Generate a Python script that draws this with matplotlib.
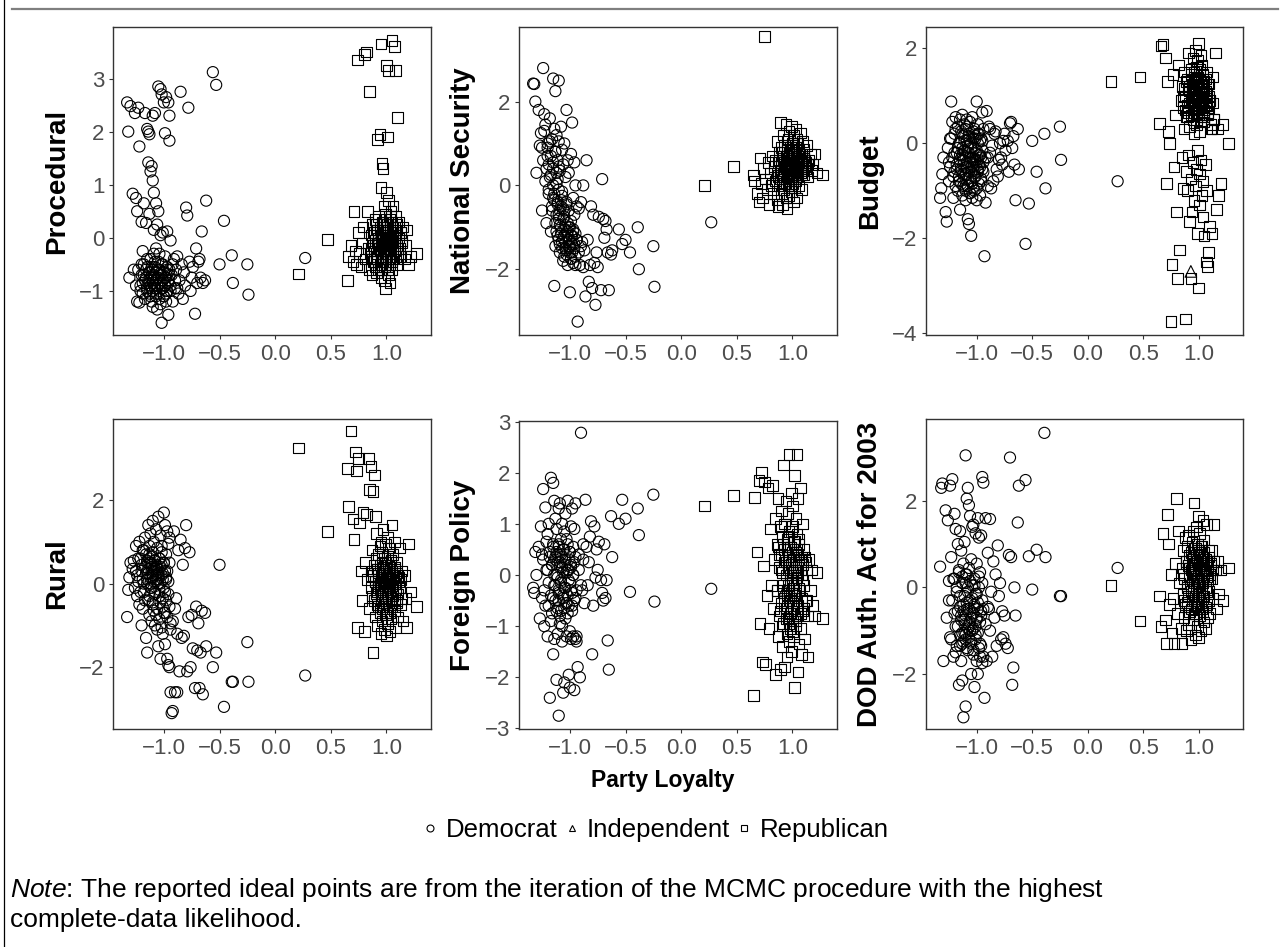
import matplotlib
matplotlib.use("Agg")
import matplotlib.pyplot as plt
from matplotlib.lines import Line2D

plt.rcParams['font.family'] = ['Liberation Sans', 'DejaVu Sans']
plt.rcParams['mathtext.fontset'] = 'custom'
plt.rcParams['mathtext.rm'] = 'Liberation Sans'
plt.rcParams['mathtext.it'] = 'Liberation Sans:italic'

# first dimension (party loyalty), shared by all six panels
dem_x = [
    -1.33, -1.32, -1.31, -1.30, -1.28, -1.27, -1.26, -1.25, -1.24, -1.24,
    -1.23, -1.22, -1.22, -1.21, -1.20, -1.20, -1.19, -1.19, -1.18, -1.18,
    -1.17, -1.17, -1.16, -1.16, -1.15, -1.15, -1.15, -1.14, -1.14, -1.14,
    -1.13, -1.13, -1.13, -1.12, -1.12, -1.12, -1.11, -1.11, -1.11, -1.10,
    -1.10, -1.10, -1.10, -1.09, -1.09, -1.09, -1.08, -1.08, -1.08, -1.07,
    -1.07, -1.07, -1.06, -1.06, -1.06, -1.05, -1.05, -1.05, -1.04, -1.04,
    -1.04, -1.03, -1.03, -1.03, -1.02, -1.02, -1.02, -1.01, -1.01, -1.01,
    -1.00, -1.00, -1.00, -0.99, -0.99, -0.99, -0.98, -0.98, -0.98, -0.97,
    -0.97, -0.97, -0.96, -0.96, -0.96, -0.95, -0.95, -0.95, -0.94, -0.94,
    -0.93, -0.92, -0.91, -0.90, -0.89, -0.88, -0.87, -0.86, -0.85, -0.84,
    -0.83, -0.82, -0.81, -0.80, -0.79, -0.78, -0.77, -0.76, -0.75, -0.74,
    -0.72, -0.71, -0.70, -0.69, -0.68, -0.67, -0.66, -0.65, -0.63, -0.62,
    -0.56, -0.53, -0.50, -0.46, -0.39, -0.38, -0.25, -0.24, 0.27,
    -1.25, -1.23, -1.21, -1.20, -1.19, -1.18, -1.17, -1.16, -1.15, -1.15,
    -1.14, -1.13, -1.13, -1.12, -1.12, -1.11, -1.11, -1.10, -1.10, -1.10,
    -1.09, -1.09, -1.08, -1.08, -1.07, -1.07, -1.06, -1.06, -1.05, -1.05,
    -1.04, -1.04, -1.03, -1.03, -1.02, -1.02, -1.01, -1.01, -1.00, -1.00,
    -0.99, -0.99, -0.98, -0.97, -0.96, -0.95, -0.94, -0.92, -0.90, -0.88,
]
rep_x = [
    0.21, 0.47,
    0.65, 0.66, 0.68, 0.70, 0.71, 0.72, 0.73, 0.74, 0.75, 0.76,
    0.77, 0.78, 0.79, 0.80, 0.81, 0.82, 0.83, 0.84,
    0.85, 0.85, 0.86, 0.86, 0.87, 0.87, 0.88, 0.88, 0.89, 0.89,
    0.90, 0.90, 0.90, 0.91, 0.91, 0.91, 0.92, 0.92, 0.92, 0.93,
    0.93, 0.93, 0.94, 0.94, 0.94, 0.95, 0.95, 0.95, 0.95, 0.96,
    0.96, 0.96, 0.96, 0.97, 0.97, 0.97, 0.97, 0.98, 0.98, 0.98,
    0.98, 0.99, 0.99, 0.99, 0.99, 1.00, 1.00, 1.00, 1.00, 1.01,
    1.01, 1.01, 1.01, 1.02, 1.02, 1.02, 1.02, 1.03, 1.03, 1.03,
    1.03, 1.04, 1.04, 1.04, 1.05, 1.05, 1.05, 1.06, 1.06, 1.06,
    1.07, 1.07, 1.07, 1.08, 1.08, 1.09, 1.09, 1.10, 1.10, 1.11,
    1.12, 1.13, 1.14, 1.15, 1.16, 1.17, 1.18, 1.20, 1.22, 1.27,
    0.86, 0.88, 0.89, 0.90, 0.91, 0.92, 0.93, 0.93, 0.94, 0.94,
    0.95, 0.95, 0.96, 0.96, 0.96, 0.97, 0.97, 0.97, 0.98, 0.98,
    0.98, 0.99, 0.99, 0.99, 1.00, 1.00, 1.00, 1.00, 1.01, 1.01,
    1.01, 1.02, 1.02, 1.02, 1.03, 1.03, 1.03, 1.04, 1.04, 1.04,
    1.05, 1.05, 1.05, 1.06, 1.06, 1.07, 1.07, 1.08, 1.08, 1.09,
    1.09, 1.10, 1.11, 1.12, 1.13, 1.14, 0.87, 0.92, 1.00, 1.03,
]
ind_x = [0.93]

# second dimension, one list per issue area
dem_proc = [
    2.55, 2.0, -0.75, 2.48, 0.83, -0.6, 2.35, 0.75, -1.2, 0.5,
    2.45, 1.72, -1.22, -0.9, 0.3, -0.5, -0.25, -1.05, 0.65, -0.7,
    2.35, -0.8, -0.6, 0.28, 2.05, -1.0, -0.4, 2.0, 1.42, -0.85,
    1.95, -0.65, 0.45, 1.25, -1.1, -0.75, 1.35, -0.55, -0.95, 2.3,
    1.08, -0.8, -1.3, 0.85, -0.7, 0.15, 2.35, -0.9, -0.45, 0.65,
    -1.05, -0.2, -0.75, 0.25, -1.35, 2.85, -0.6, 0.5, -0.85, -0.3,
    -1.15, 2.8, -0.7, 0.05, 2.7, -0.95, -1.6, -0.5, -0.8, 0.1,
    2.55, -1.1, -0.65, 1.97, -0.35, -0.9, 2.65, -0.75, -1.2, 0.12,
    -0.55, -1.0, 2.55, -0.8, -1.45, 1.83, -0.6, 2.3, -0.05, -0.9,
    -0.7, -1.2, -0.4, -0.95, -0.6, -0.35, -1.05, -0.8, 2.75, -0.5,
    -1.15, -0.65, -0.9, 0.57, 0.42, 2.45, -0.45, -1.0, -0.75, -0.55,
    -1.43, -0.2, -0.85, -0.45, -0.4, -0.75, 0.12, -0.85, -0.8, 0.7,
    3.12, 2.88, -0.5, 0.32, -0.33, -0.85, -0.5, -1.07, -0.38,
    -0.9, -0.6, -1.0, -0.7, -0.85, -0.5, -1.15, -0.75, -0.95, -0.55,
    -0.8, -1.05, -0.65, -0.9, -0.4, -0.7, -1.2, -0.85, -0.6, -1.0,
    -0.75, -0.3, -0.95, -0.55, -0.8, -1.1, -0.65, -0.9, -0.45, -0.75,
    -1.0, -0.6, -0.85, -1.25, -0.7, -0.5, -0.95, -0.8, -1.1, -0.65,
    -0.75, -0.9, -1.05, -0.6, -0.85, -0.7, -1.0, -0.5, -0.8, -0.95,
]
rep_proc = [
    -0.68, -0.03,
    -0.8, -0.35, -0.15, -0.45, 0.5, -0.25, -0.5, 3.35, 0.1, -0.3,
    -0.55, -0.1, 0.2, 3.45, -0.4, 3.5, 0.5, -0.2,
    2.75, -0.6, 0.05, -0.35, -0.7, 0.25, -0.15, -0.45, 0.1, -0.25,
    -0.55, 0.35, -0.05, -0.3, 0.15, -0.65, 1.85, -0.1, -0.4, 0.4,
    -0.2, 0.0, -0.5, 1.95, 0.2, 3.65, -0.35, 0.95, -0.75, 0.05,
    -0.15, 1.4, -0.6, 0.3, -0.45, 1.3, -0.05, -0.8, 0.6, -0.25,
    0.15, -0.95, 0.45, -0.1, -0.4, 3.25, 0.85, -0.3, 0.1, 1.9,
    -0.55, 0.25, -0.05, 3.15, -0.7, 0.7, -0.2, 0.35, -0.45, 0.05,
    -0.85, 0.5, -0.15, -0.35, 3.72, 0.2, -0.6, -0.1, 0.6, -0.4,
    3.6, 0.0, -0.25, 3.15, 0.4, -0.5, 0.15, 2.27, -0.2, 0.3,
    -0.35, 0.1, -0.05, 0.2, -0.4, -0.15, 0.15, -0.5, -0.35, -0.3,
    -0.2, 0.1, -0.45, -0.1, 0.25, -0.35, 0.0, -0.6, 0.15, -0.25,
    -0.05, -0.5, 0.3, -0.15, -0.4, 0.05, -0.3, 0.2, -0.55, -0.1,
    0.35, -0.2, 0.0, -0.45, 0.1, -0.35, -0.05, 0.25, -0.25, -0.6,
    0.15, -0.4, 0.05, -0.15, -0.5, 0.2, -0.3, 0.0, 0.4, -0.2,
    -0.1, 0.3, -0.45, 0.1, -0.25, -0.05, 0.2, -0.35, 0.05, -0.15,
    0.25, -0.3, 0.0, -0.2, 0.1, -0.1, -0.4, 0.15, -0.25, -0.05,
]
ind_proc = [0.0]

dem_natsec = [
    2.43, 2.42, 2.0, 0.3, 1.8, 0.95, 1.25, -0.6, 2.8, 0.6,
    1.7, 1.45, 0.1, -0.9, 0.9, 1.0, -0.1, 0.5, 1.6, 0.2,
    -1.1, 0.7, 1.1, -0.5, 2.55, -0.3, 0.4, 1.35, -2.4, -0.2,
    2.25, -1.45, 0.8, 0.05, -0.7, 1.2, -0.45, 0.6, -1.2, 2.5,
    -0.1, -0.8, 1.05, -1.6, 0.35, -0.6, 1.4, -1.0, -0.35, 0.85,
    -1.35, -0.15, -1.8, 0.5, -0.55, 1.0, -1.2, -0.75, -1.5, 0.2,
    -0.95, 1.8, -1.65, -0.4, -1.1, 0.6, -1.9, -0.6, -1.3, 0.3,
    -2.55, -1.0, -1.45, 0.75, -1.75, -0.85, -1.2, 1.5, -1.6, -0.3,
    -1.05, -1.85, 0.55, -1.4, -0.7, -1.15, 0.0, -1.7, -1.3, -0.5,
    -3.25, -0.55, -1.9, -0.4, -1.35, 0.0, -1.55, -2.65, 0.6, -1.3,
    -2.3, -1.9, -0.5, -2.45, -0.7, -1.85, -2.85, -1.6, -1.95, -0.75,
    -2.5, 0.15, -0.8, -1.25, -0.85, -1.05, -1.6, -2.5, -1.65, -1.55,
    -1.05, -1.4, -1.3, -1.6, -1.0, -2.0, -1.45, -2.42, -0.88,
    0.9, 1.3, 0.4, 0.7, -0.2, 1.05, 0.25, -0.6, 0.55, 0.0,
    -0.35, 0.8, -0.9, 0.3, -1.1, -0.4, 0.15, -1.3, -0.7, 0.45,
    -0.95, -1.4, -0.5, -1.15, -0.25, -1.5, -0.8, -1.25, -0.6, -1.7,
    -1.05, -1.35, -0.45, -1.55, -1.2, -0.9, -1.45, -1.0, -1.6, -1.3,
    -1.2, -1.75, -1.4, -1.1, -1.5, -1.9, -1.3, -1.6, -1.45, -1.95,
]
rep_natsec = [
    0.0, 0.45,
    0.25, 0.1, -0.2, -0.4, 0.65, 0.05, -0.3, 0.4, 3.55, 0.15,
    -0.1, 0.55, -0.45, 0.3, 0.0, 0.7, -0.2, 0.45,
    0.1, 0.6, -0.35, 1.05, 0.25, -0.5, 0.8, 0.0, 1.5, 0.35,
    -0.2, 0.55, 0.9, 0.15, -0.45, 0.7, 0.3, 1.2, -0.1, 0.5,
    0.05, 0.95, 0.4, -0.3, 1.45, 0.2, 0.65, -0.55, 0.85, 0.3,
    1.1, 0.0, 0.5, 0.75, -0.25, 0.35, 1.3, 0.6, 0.1, 0.9,
    0.45, -0.15, 0.7, 1.4, 0.2, 0.55, 0.05, 1.0, 0.35, 0.8,
    -0.4, 0.6, 1.2, 0.25, 0.75, -0.05, 0.45, 1.35, 0.15, 0.9,
    0.5, 0.2, 1.1, -0.3, 0.65, 0.35, 1.0, 0.0, 0.55, 0.8,
    0.3, 1.25, 0.45, 0.7, -0.1, 0.5, 1.05, 0.25, 0.85, 0.6,
    0.4, 0.95, 0.2, 0.6, 0.75, 0.35, 0.5, 0.75, 0.3, 0.25,
    0.3, 0.6, 0.15, 0.45, 0.8, 0.2, 0.55, 0.35, 0.7, 0.05,
    0.4, 0.9, 0.25, 0.5, 0.65, 0.1, 0.45, 0.75, 0.3, 0.55,
    0.0, 0.6, 0.85, 0.2, 0.4, 0.7, 0.15, 0.5, 0.95, 0.3,
    0.6, 0.25, 0.45, 0.8, 0.1, 0.55, 0.35, 0.65, 0.2, 1.0,
    0.45, 0.7, 0.3, 0.55, 0.85, 0.4, 0.6, 0.25, 0.75, 0.5,
    0.35, 0.65, 0.45, 0.55, 0.4, 0.5, 0.2, 0.6, 0.3, 0.7,
]
ind_natsec = [0.4]

dem_budget = [
    -1.15, -0.95, -0.65, -0.3, -1.45, -1.65, -0.1, -0.8, 0.1, -0.5,
    0.88, 0.45, -0.3, -1.15, -0.6, 0.2, -0.9, 0.55, -0.2, -0.45,
    0.35, -1.0, -0.7, 0.0, -1.4, 0.5, -0.25, -0.55, 0.25, -0.85,
    -0.1, 0.6, -1.1, -0.35, 0.15, -0.65, 0.4, -0.95, -0.15, -0.5,
    0.3, -0.75, -1.2, 0.05, -0.4, 0.5, -1.6, -0.2, -0.9, -1.7,
    0.2, -0.6, -1.05, -0.3, 0.45, -1.95, -0.1, -0.8, 0.55, -0.45,
    -1.15, 0.1, -0.35, -0.95, 0.3, -0.55, -1.0, -0.2, 0.15, -0.7,
    0.88, -0.4, -1.2, 0.0, 0.4, -0.6, -0.25, 0.2, -0.85, -0.5,
    0.05, -1.1, 0.1, -0.3, -0.75, 0.65, -0.15, -0.55, 0.3, -0.4,
    -2.38, -1.25, 0.68, -0.3, 0.35, 0.3, -0.95, -0.05, -0.8, 0.2,
    0.25, -0.55, -0.7, -0.35, 0.0, -0.3, -0.45, 0.05, 0.2, -0.15,
    0.05, -0.6, 0.42, 0.45, -0.1, 0.15, -0.45, -1.2, 0.3, -0.55,
    -2.12, -1.27, 0.05, -0.6, 0.2, -0.95, 0.35, -0.35, -0.8,
    -0.4, 0.1, -0.7, -0.2, 0.3, -0.55, -0.1, -0.8, 0.0, -0.35,
    -0.6, 0.2, -0.25, -0.9, -0.45, 0.05, -0.15, -0.65, -1.0, -0.3,
    0.35, -0.5, -0.05, -0.75, -0.2, 0.15, -0.4, -1.05, -0.6, 0.0,
    -0.3, -0.85, 0.25, -0.5, -0.1, -0.7, 0.1, -0.35, -0.95, -0.15,
    -0.55, 0.2, -0.45, -0.25, -0.8, 0.05, -0.6, -0.3, -0.9, -0.2,
]
rep_budget = [
    1.3, 1.4,
    0.42, 2.05, 2.08, 1.8, -0.85, 1.3, 0.25, 0.0, -3.75, -2.55,
    1.45, -0.5, 0.6, -1.45, -2.85, 1.65, -2.25, 0.9,
    1.2, -0.3, 0.75, -0.95, 1.5, 0.3, -3.7, 1.0, -0.6, 0.55,
    1.35, -1.0, 0.8, 1.9, -0.25, 0.65, 1.1, -1.65, 0.35, -2.85,
    1.55, -0.75, 0.95, 1.25, -1.45, 0.5, 1.8, -0.4, 1.15, 0.85,
    -1.2, 1.4, 0.2, 1.95, -0.9, 0.7, 1.05, -0.55, 1.6, 0.4,
    1.3, -1.9, 0.9, -0.15, 1.75, 2.1, -3.05, 0.6, 1.15, -0.65,
    1.45, 0.25, -1.3, 1.0, 1.85, -0.35, 0.75, 1.2, -1.1, 0.55,
    1.65, -0.8, 0.95, -1.55, 1.3, -1.95, 0.45, 1.1, -0.45, 0.8,
    -2.5, 1.5, -1.0, -2.6, 0.65, -2.3, 1.25, -1.75, 0.9, 0.3,
    -1.9, 1.4, 0.5, 1.9, -1.4, 0.3, -1.1, -0.85, 0.4, 0.0,
    1.0, 0.7, 1.3, 0.55, 1.15, 0.85, 1.45, 0.6, 1.05, 0.9,
    1.25, 0.75, 1.5, 0.95, 0.65, 1.2, 0.8, 1.35, 1.0, 0.5,
    1.1, 0.7, 1.4, 0.9, 1.25, 0.6, 1.05, 0.8, 1.55, 0.95,
    0.75, 1.15, 0.45, 1.3, 0.85, 1.0, 0.65, 1.2, 0.9, 1.45,
    0.7, 1.1, 0.55, 0.95, 1.35, 0.8, 1.05, 0.6, 1.25, 0.75,
    1.0, 0.9, 0.4, 0.3, 0.85, 0.5, 1.15, 1.2, 0.95, 1.1,
]
ind_budget = [-2.7]

dem_rural = [
    -0.8, -0.15, 0.15, 0.5, 0.35, 0.55, -0.1, 0.9, -0.3, 0.2,
    0.05, 1.0, -0.5, 0.6, -1.0, 0.3, -0.6, 0.8, 0.0, -0.2,
    1.1, 0.4, -1.3, 0.7, -1.65, 0.1, 0.5, 1.4, -0.4, 0.25,
    0.9, -0.75, 0.6, 0.0, 1.2, -0.1, 0.45, -0.9, 0.3, 1.5,
    0.15, -0.45, 0.75, -0.65, 0.35, 1.0, -1.0, 0.55, -0.2, 1.3,
    0.05, -0.75, 0.4, -1.1, 0.85, 1.6, -1.5, 0.2, -0.3, 0.6,
    -0.85, 1.15, -1.8, 0.0, 0.45, -1.05, 0.9, -0.55, 0.25, -1.2,
    1.7, -0.1, 0.5, -0.7, 1.4, -1.45, 0.1, 0.7, -0.4, 1.25,
    -1.8, 0.3, 0.95, -0.25, -1.95, 0.5, -2.0, 1.1, -2.6, -0.95,
    -3.1, -3.05, 1.25, -2.6, -0.35, -2.6, 0.8, -2.1, 1.05, -1.3,
    0.45, -1.25, 0.85, 1.4, -2.1, -0.8, 0.75, -2.0, -0.75, -1.55,
    -2.5, -0.55, -1.6, -0.95, -2.5, -1.65, -0.65, -2.65, -0.7, -1.5,
    -2.0, -1.65, 0.45, -2.95, -2.35, -2.35, -1.4, -2.35, -2.2,
    0.3, 0.6, -0.2, 0.45, 0.1, 0.8, -0.4, 0.25, 0.55, 0.0,
    0.35, -0.3, 0.7, 0.15, 0.5, -0.1, 0.4, 0.2, 0.65, -0.5,
    0.3, 0.05, 0.55, -0.25, 0.45, 0.1, -0.6, 0.35, 0.0, 0.25,
    0.6, -0.15, 0.4, -0.45, 0.2, 0.75, -0.35, 0.1, 0.5, -0.7,
    0.3, -0.2, 0.15, -0.8, 0.05, -0.55, -1.1, -0.9, -0.6, -1.2,
]
rep_rural = [
    3.25, 1.25,
    2.75, 1.85, 3.65, 1.55, 1.05, 3.15, 2.7, -1.05, 3.0, 1.45,
    0.3, -0.4, 1.7, -1.15, 0.5, 1.65, 0.1, 3.0,
    2.25, -0.6, 2.8, 0.2, 0.8, -0.3, 2.2, -1.65, 2.6, 0.45,
    1.6, -0.8, 0.05, 0.6, -0.2, 1.2, -0.5, 0.35, -1.0, 0.7,
    -0.1, 0.25, -0.7, 0.9, 0.0, -0.4, 1.0, 0.15, -1.2, 0.5,
    -0.25, 0.75, -0.9, 0.1, 1.3, -0.55, 0.3, -0.05, -1.1, 0.6,
    0.2, -0.35, 0.95, -0.75, 0.0, 0.45, -1.25, 0.15, -0.6, 1.1,
    -0.15, 0.65, -0.95, 0.3, -0.45, 0.05, 0.85, -0.7, 0.4, -1.15,
    0.1, -0.3, 0.55, -0.85, 0.25, 1.4, -0.5, 0.0, 0.7, -0.2,
    0.35, -0.65, 1.0, -0.1, -1.05, 0.5, -0.4, 0.2, -0.8, 0.15,
    0.85, -0.5, 0.3, -0.9, 0.2, -0.35, -1.05, 0.95, -0.2, -0.55,
    -0.1, 0.2, -0.4, 0.05, -0.25, 0.35, -0.55, 0.1, -0.15, 0.45,
    0.0, -0.35, 0.25, -0.6, 0.15, -0.2, 0.4, -0.05, -0.45, 0.3,
    0.1, -0.3, 0.5, -0.15, 0.2, -0.5, 0.05, 0.35, -0.25, -0.7,
    0.15, -0.1, 0.45, -0.4, 0.0, 0.25, -0.2, 0.55, -0.35, 0.1,
    -0.05, 0.3, -0.55, 0.2, -0.3, 0.0, 0.4, -0.15, 0.15, -0.45,
    0.25, -0.25, 0.05, -0.1, 0.1, -0.35, 0.3, -0.2, 0.0, 0.2,
]
ind_rural = [0.1]

dem_foreign = [
    -0.25, -0.35, 0.45, 0.0, 0.55, -0.85, 0.95, -0.45, 1.68, 0.3,
    -1.0, 1.32, -0.6, 0.1, -1.2, 0.8, -0.15, 1.0, -2.4, 0.45,
    -0.4, 1.9, 0.2, -0.75, 1.8, -1.55, 0.6, -0.2, 1.45, -1.25,
    0.35, -0.5, 1.1, -2.05, 0.0, 0.9, -0.65, 0.4, -1.15, -2.75,
    1.3, -0.3, 0.55, -0.95, 0.25, 1.4, -0.1, -0.7, 0.7, -1.3,
    0.15, 1.0, -0.45, 0.5, -2.3, -2.1, 0.85, -0.25, 0.3, -0.85,
    1.2, -0.55, 0.05, -1.2, 0.6, -0.4, 1.45, -1.95, 0.1, -0.6,
    -2.2, 0.45, -0.15, 0.95, -1.25, 0.2, -0.7, 1.3, -0.35, 0.55,
    -1.2, 0.0, 0.9, -0.5, -2.25, 0.35, -1.25, 1.4, -0.3, -1.3,
    -1.8, 0.1, -2.0, 2.78, -0.3, 0.3, -0.55, 1.47, 0.55, -0.2,
    0.25, 0.75, 1.05, -1.55, -0.6, 0.95, -0.05, 0.5, 0.1, 0.65,
    -0.1, -0.35, -0.5, 0.6, -0.45, -0.1, -1.28, -1.85, 1.15, 0.35,
    1.0, 1.47, 1.1, -0.33, 1.3, 0.78, 1.57, -0.52, -0.27,
    0.4, -0.3, 0.65, 0.1, -0.6, 0.35, -0.9, 0.2, -0.45, 0.55,
    0.0, -0.2, 0.3, -0.7, 0.45, -0.05, 0.25, -0.5, 0.6, -0.35,
    0.15, -0.8, 0.4, -0.15, 0.35, -1.0, 0.05, -0.4, 0.5, -0.65,
    0.2, -0.25, 0.7, -0.55, 0.1, -0.75, 0.3, -0.1, -1.1, 0.45,
    -0.3, 0.15, -0.6, 0.0, 0.25, -0.45, -1.2, 0.4, -0.2, 0.6,
]
rep_foreign = [
    1.35, 1.55,
    -2.35, 1.52, 0.45, 1.85, -0.95, 2.0, -1.7, 0.18, 1.82, -1.75,
    -0.4, 1.7, -1.05, 0.9, -0.2, 1.75, -0.65, 0.3,
    -1.95, 1.1, -0.3, 0.6, -1.2, 1.5, 0.15, -0.8, 0.95, -1.85,
    0.4, -0.55, 1.25, -1.4, 0.05, 0.75, -0.95, 2.15, -0.2, 0.5,
    -1.8, 1.0, -0.65, 0.25, 1.45, -1.15, -0.4, 0.7, -1.6, 0.1,
    1.2, -0.85, 0.35, -0.3, 2.35, -1.3, 0.85, -0.5, 0.0, -1.05,
    0.55, 1.6, -0.7, 0.2, -1.5, 0.95, -0.15, -0.9, 1.35, 0.3,
    -1.2, 0.65, -0.45, 1.95, -0.8, 0.1, -2.2, 1.1, -0.35, 0.45,
    -1.0, 0.8, -0.6, 2.35, 0.0, -1.9, 1.5, -0.25, 0.6, -1.35,
    0.2, 1.7, -0.75, 0.35, -1.55, 1.0, -0.1, -0.65, 0.5, -1.25,
    0.25, -0.5, -1.6, 0.3, -0.3, 0.1, -0.6, -0.8, 0.05, -0.85,
    -0.3, 0.4, -0.7, 0.1, -1.0, 0.6, -0.45, 0.25, -0.85, 0.0,
    0.5, -0.6, 0.15, -0.2, 0.75, -0.95, 0.35, -0.5, -0.1, 0.55,
    -0.75, 0.2, -0.35, 0.85, -0.55, 0.05, -1.1, 0.45, -0.25, 0.3,
    -0.65, 0.1, -0.4, 0.65, -0.9, 0.25, -0.15, 0.5, -0.8, -0.05,
    0.4, -0.6, 0.15, -0.3, 0.7, -1.05, 0.3, -0.45, 0.0, -0.7,
    0.2, -0.2, 0.35, -0.5, 0.1, -0.8, 0.55, -0.35, -0.1, 0.05,
]
ind_foreign = [-0.3]

dem_dod = [
    0.48, 2.3, 2.4, -1.7, 1.78, -0.7, 1.55, 0.15, 2.35, -1.15,
    0.7, -0.3, 2.5, -1.6, 1.7, 0.2, -0.9, 1.35, -1.35, 0.0,
    1.0, -0.55, -2.25, 0.4, -1.1, 1.3, -0.2, -1.7, 0.85, -0.65,
    -2.15, 0.25, -1.3, -3.0, -0.4, 0.55, -1.05, 1.05, -0.75, 3.05,
    -2.75, 0.1, -1.2, 2.05, -0.5, 0.3, 2.3, -1.45, -0.1, 1.9,
    -0.85, 0.45, 1.65, -1.0, -0.3, -2.0, 0.65, -1.25, 1.4, -0.6,
    0.05, -1.55, 1.45, -0.95, -2.3, 0.2, -0.45, 1.25, -1.1, -0.15,
    -1.7, 0.55, -0.7, -2.0, 1.6, -0.35, 0.0, -1.4, 1.15, -0.8,
    0.35, -1.6, 1.2, -0.55, -1.35, 2.55, 0.1, -1.75, 2.42, -0.5,
    -2.55, 1.6, -1.7, 0.8, -0.5, 1.58, -0.1, -1.6, 0.6, -0.7,
    0.3, -1.35, 0.97, -0.2, 0.1, -1.2, -0.55, -1.15, -0.65, -1.3,
    -1.4, 0.75, 3.0, 0.7, -2.25, -1.85, 0.0, -0.65, 1.5, 2.35,
    2.48, 0.72, -0.05, 0.87, 3.57, 0.7, -0.2, -0.2, 0.45,
    -0.3, -1.2, 0.2, -0.6, -1.5, -0.1, -0.9, 0.35, -1.35, -0.45,
    -0.75, -1.05, 0.1, -0.55, -1.25, -0.2, -0.85, -1.1, 0.3, -0.65,
    -1.4, -0.35, -0.95, 0.0, -1.15, -0.5, -0.8, 0.15, -1.3, -0.7,
    -0.25, -1.0, -0.6, -1.45, 0.05, -0.4, -1.2, -0.9, -0.15, -0.75,
    -1.05, -0.5, 0.25, -1.3, -0.65, -0.3, -1.6, -0.85, -0.45, -1.0,
]
rep_dod = [
    0.05, -0.78,
    -0.2, -0.9, 1.25, -0.75, -1.3, 1.68, 1.0, -0.4, 0.3, -1.05,
    -0.25, -1.3, 0.55, 2.05, -0.6, 1.3, 0.1, -0.95,
    -1.3, 0.45, -0.15, 0.85, -0.7, 0.2, 1.15, -0.45, 0.6, -1.0,
    0.0, 0.95, -0.35, 0.5, -0.85, 1.2, 0.25, -0.55, 0.75, -0.1,
    0.4, -1.2, 1.05, -0.3, 0.15, 0.65, -0.75, 1.3, -0.05, 0.35,
    1.95, -0.6, 0.55, -0.2, 0.9, -1.1, 0.3, 1.4, -0.4, 0.1,
    0.7, -0.9, 0.2, 1.0, -0.25, 1.65, -0.5, 0.45, -1.15, 0.8,
    0.05, -0.65, 1.25, 0.3, -0.35, 0.6, -1.0, 0.95, 0.15, -0.5,
    0.5, 1.55, -0.2, 0.7, -0.8, 0.25, 1.1, -0.45, 0.4, -0.95,
    0.6, -0.1, 1.45, -0.7, 0.35, 0.85, -0.3, 0.2, -0.6, 0.5,
    0.85, -0.25, 1.45, 0.4, -0.5, 0.6, -0.15, 0.4, -0.3, 0.45,
    0.3, -0.4, 0.6, 0.05, -0.2, 0.45, 0.8, -0.5, 0.2, 0.65,
    -0.1, 0.4, 0.9, -0.3, 0.1, 0.55, -0.6, 0.35, 0.75, 0.0,
    0.25, -0.45, 0.6, 0.15, 0.85, -0.25, 0.4, 0.05, 0.7, -0.15,
    0.5, -0.35, 0.3, 0.95, -0.05, 0.2, 0.6, -0.55, 0.45, 0.1,
    0.8, -0.2, 0.35, 0.0, 0.65, 0.25, -0.4, 0.5, 0.15, 0.7,
    -0.1, 0.3, 0.55, 0.2, 0.4, 0.6, -0.3, 0.45, 0.1, -0.05,
]
ind_dod = [0.2]

panel_labels = ["Procedural", "National Security", "Budget",
                "Rural", "Foreign Policy", "DOD Auth. Act for 2003"]
panel_dem = [dem_proc, dem_natsec, dem_budget, dem_rural, dem_foreign, dem_dod]
panel_rep = [rep_proc, rep_natsec, rep_budget, rep_rural, rep_foreign, rep_dod]
panel_ind = [ind_proc, ind_natsec, ind_budget, ind_rural, ind_foreign, ind_dod]
panel_yticks = [[-1, 0, 1, 2, 3], [-2, 0, 2], [-4, -2, 0, 2],
                [-2, 0, 2], [-3, -2, -1, 0, 1, 2, 3], [-2, 0, 2]]
panel_ylim = [(-1.83, 3.97), (-3.57, 3.78), (-4.04, 2.45),
              (-3.48, 3.94), (-3.01, 3.01), (-3.27, 3.89)]
x_ticks = [-1.0, -0.5, 0.0, 0.5, 1.0]

W, H = 1281, 947
fig = plt.figure(figsize=(W / 100, H / 100), dpi=100)

# panel boxes in pixels: left, top, width, height
boxes = [(113, 27, 318, 308), (519, 27, 318, 308), (926, 27, 317, 308),
         (113, 419, 318, 310), (519, 421, 318, 308), (926, 419, 317, 310)]

for i in range(6):
    l, t, w, h = boxes[i]
    ax = fig.add_axes([l / W, 1 - (t + h) / H, w / W, h / H])
    ax.scatter(ind_x, panel_ind[i], marker="^", s=70, facecolors="none",
               edgecolors="black", linewidths=0.8, zorder=2)
    ax.scatter(dem_x, panel_dem[i], marker="o", s=64, facecolors="none",
               edgecolors="black", linewidths=0.8, zorder=3)
    ax.scatter(rep_x, panel_rep[i], marker="s", s=58, facecolors="none",
               edgecolors="black", linewidths=0.8, zorder=3)
    ax.set_xlim(-1.457, 1.40)
    ax.set_ylim(*panel_ylim[i])
    ax.set_xticks(x_ticks)
    ax.set_yticks(panel_yticks[i])
    for s in ax.spines.values():
        s.set_color("#333333")
        s.set_linewidth(1.0)
    ax.tick_params(direction="out", length=3.2, width=0.8, color="#333333",
                   labelcolor="#4d4d4d", labelsize=16, pad=3)
    ax.set_ylabel(panel_labels[i], fontsize=20, fontweight="bold", va="center")
    ax.yaxis.set_label_coords(-56 / w, 0.5)
    if i == 4:
        ax.set_xlabel("Party Loyalty", fontsize=16.5, fontweight="bold",
                      va="baseline")
        ax.xaxis.set_label_coords((663 - l) / w, -(787 - t - h) / h)

# legend
handles = [
    Line2D([], [], ls="none", marker="o", ms=5, mfc="none", mec="black", mew=0.8),
    Line2D([], [], ls="none", marker="^", ms=5, mfc="none", mec="black", mew=0.8),
    Line2D([], [], ls="none", marker="s", ms=5, mfc="none", mec="black", mew=0.8),
]
fig.legend(handles, ["Democrat", "Independent", "Republican"], ncol=3,
           loc="center", bbox_to_anchor=(655 / W, 1 - 830 / H), frameon=False,
           fontsize=18.5, handlelength=0.7, handletextpad=0.25, columnspacing=0.2)

fig.text(10 / W, 1 - 897 / H,
         r"$\mathit{Note}$: The reported ideal points are from the iteration of the MCMC procedure with the highest",
         fontsize=19, va="baseline", ha="left")
fig.text(10 / W, 1 - 927 / H, "complete-data likelihood.",
         fontsize=19, va="baseline", ha="left")

# page frame lines
fig.add_artist(Line2D([12 / W, 1278 / W], [1 - 9 / H, 1 - 9 / H],
                      color="#7f7f7f", lw=1.6))
fig.add_artist(Line2D([3.5 / W, 3.5 / W], [0, 1], color="black", lw=0.9))

fig.savefig("out.png", dpi=100)
